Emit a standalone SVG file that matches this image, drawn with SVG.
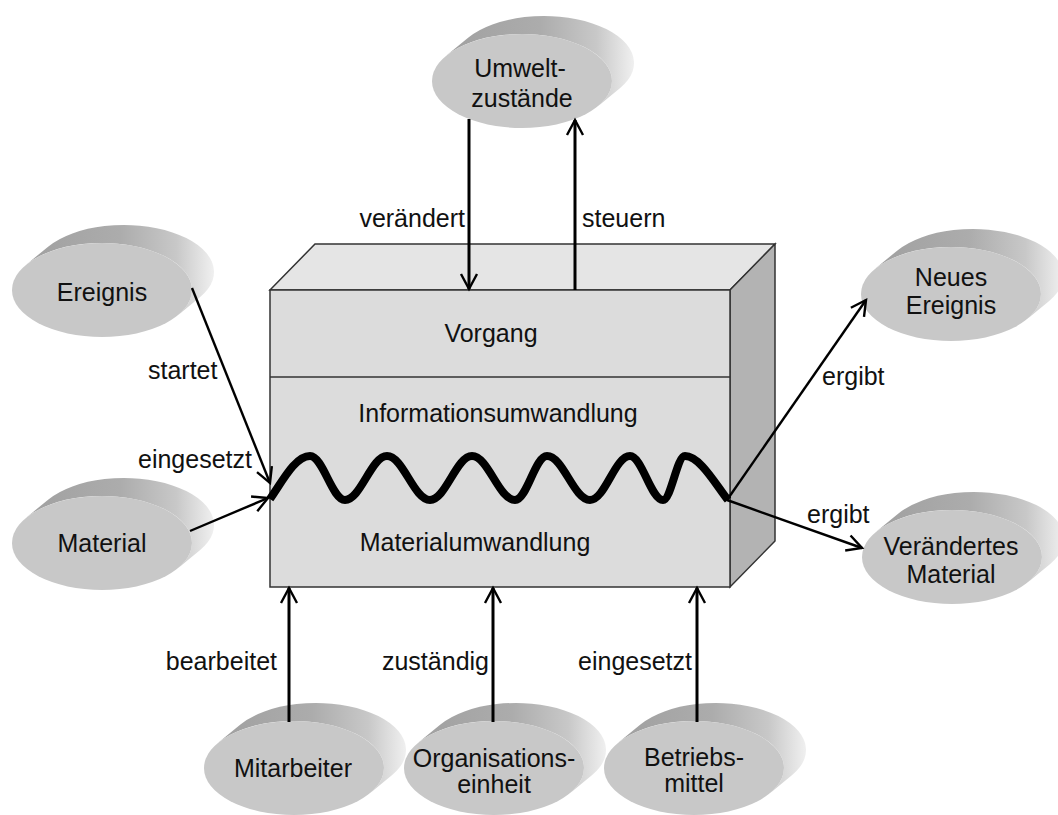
<svg xmlns="http://www.w3.org/2000/svg" xmlns:xlink="http://www.w3.org/1999/xlink" width="1058" height="815" viewBox="0 0 1058 815">
  <style>
    text { font-family: "Liberation Sans", Arial, sans-serif; font-size: 25px; fill: #111; }
    .mid { text-anchor: middle; }
    .end { text-anchor: end; }
    .conn { fill: none; stroke: #000; }
    .v { stroke-width: 3; }
    .d { stroke-width: 2.4; }
  </style>
  <defs>
    <linearGradient id="discSide" x1="0" y1="0" x2="1" y2="0">
      <stop offset="0" stop-color="#a0a0a0"/>
      <stop offset="0.5" stop-color="#acacac"/>
      <stop offset="0.8" stop-color="#c8c8c8"/>
      <stop offset="1" stop-color="#f0f0f0"/>
    </linearGradient>
    <!-- tilted disc: extruded side plus flat front face, centred on 0,0 -->
    <g id="disc">
      <path d="M-75.9,-25.3 L-53.9,-43.3 A90,47 0 0 1 97.9,7.3 L75.9,25.3 A90,47 0 0 0 -75.9,-25.3 Z" fill="url(#discSide)"/>
      <ellipse cx="0" cy="0" rx="90" ry="47" fill="#c8c8c8"/>
    </g>
    <marker id="arrow" markerUnits="userSpaceOnUse" markerWidth="24" markerHeight="24" viewBox="-20 -12 24 24" refX="0" refY="0" orient="auto">
      <path d="M-15,-8 L0,0 L-15,8" fill="none" stroke="#000" stroke-width="2.4" stroke-linejoin="miter"/>
    </marker>
  </defs>

  <!-- process block -->
  <g id="vorgang">
    <polygon points="270,290 315,244 775,244 730,290" fill="#e5e5e5" stroke="#333" stroke-width="1.5"/>
    <polygon points="730,290 775,244 775,541 730,587" fill="#b3b3b3" stroke="#333" stroke-width="1.5"/>
    <rect x="270" y="290" width="460" height="297" fill="#dcdcdc" stroke="#333" stroke-width="1.5"/>
    <line x1="270" y1="377" x2="730" y2="377" stroke="#333" stroke-width="1.5"/>
    <text class="mid" x="491" y="342">Vorgang</text>
    <text class="mid" x="498" y="422">Informationsumwandlung</text>
    <text class="mid" x="475" y="551">Materialumwandlung</text>
    <path d="M270,499 C282,482 295,456 310,456 C323,456 332,500 345,500 C360.5,500 371.5,456 387,456 C403,456 414,500 430,500 C445.5,500 456.5,456 472,456 C488,456 499,500 515,500 C527,500 535,456 547,456 C563,456 574,500 590,500 C605,500 615,456 630,456 C642,456 651,500 663,500 C671,500 677,456 685,456 C700,456 716,485 728,500" fill="none" stroke="#000" stroke-width="8" stroke-linejoin="round"/>
  </g>

  <!-- objects around the process -->
  <g id="umweltzustaende">
    <use xlink:href="#disc" x="522" y="81"/>
    <text class="mid" x="520" y="77">Umwelt-</text>
    <text class="mid" x="522" y="107">zustände</text>
  </g>
  <g id="ereignis">
    <use xlink:href="#disc" x="102" y="290"/>
    <text class="mid" x="102" y="301">Ereignis</text>
  </g>
  <g id="material">
    <use xlink:href="#disc" x="102" y="543"/>
    <text class="mid" x="102" y="552">Material</text>
  </g>
  <g id="neues-ereignis">
    <use xlink:href="#disc" x="951" y="294"/>
    <text class="mid" x="951" y="286">Neues</text>
    <text class="mid" x="951" y="314">Ereignis</text>
  </g>
  <g id="veraendertes-material">
    <use xlink:href="#disc" x="952" y="557"/>
    <text class="mid" x="951" y="555">Verändertes</text>
    <text class="mid" x="951" y="583">Material</text>
  </g>
  <g id="mitarbeiter">
    <use xlink:href="#disc" x="294" y="768"/>
    <text class="mid" x="293" y="777">Mitarbeiter</text>
  </g>
  <g id="organisationseinheit">
    <use xlink:href="#disc" x="494" y="768"/>
    <text class="mid" x="494" y="767">Organisations-</text>
    <text class="mid" x="494" y="793">einheit</text>
  </g>
  <g id="betriebsmittel">
    <use xlink:href="#disc" x="694" y="768"/>
    <text class="mid" x="694" y="766">Betriebs-</text>
    <text class="mid" x="694" y="792">mittel</text>
  </g>

  <!-- connectors -->
  <g id="connectors">
    <line class="conn v" x1="469" y1="119" x2="469" y2="289" marker-end="url(#arrow)"/>
    <line class="conn v" x1="575" y1="290" x2="575" y2="120" marker-end="url(#arrow)"/>
    <line class="conn d" x1="192" y1="288" x2="270" y2="483" marker-end="url(#arrow)"/>
    <line class="conn d" x1="190" y1="531" x2="268" y2="498" marker-end="url(#arrow)"/>
    <line class="conn d" x1="727" y1="500" x2="866" y2="300" marker-end="url(#arrow)"/>
    <line class="conn d" x1="727" y1="500" x2="862" y2="548" marker-end="url(#arrow)"/>
    <line class="conn v" x1="289" y1="722" x2="289" y2="588" marker-end="url(#arrow)"/>
    <line class="conn v" x1="493" y1="722" x2="493" y2="588" marker-end="url(#arrow)"/>
    <line class="conn v" x1="697" y1="722" x2="697" y2="588" marker-end="url(#arrow)"/>
  </g>

  <!-- connector labels -->
  <g id="labels">
    <text class="end" x="465" y="227">verändert</text>
    <text x="582" y="227">steuern</text>
    <text x="148" y="379">startet</text>
    <text x="138" y="468">eingesetzt</text>
    <text x="822" y="385">ergibt</text>
    <text x="807" y="523">ergibt</text>
    <text class="end" x="277" y="670">bearbeitet</text>
    <text class="end" x="489" y="670">zuständig</text>
    <text class="end" x="692" y="670">eingesetzt</text>
  </g>
</svg>
